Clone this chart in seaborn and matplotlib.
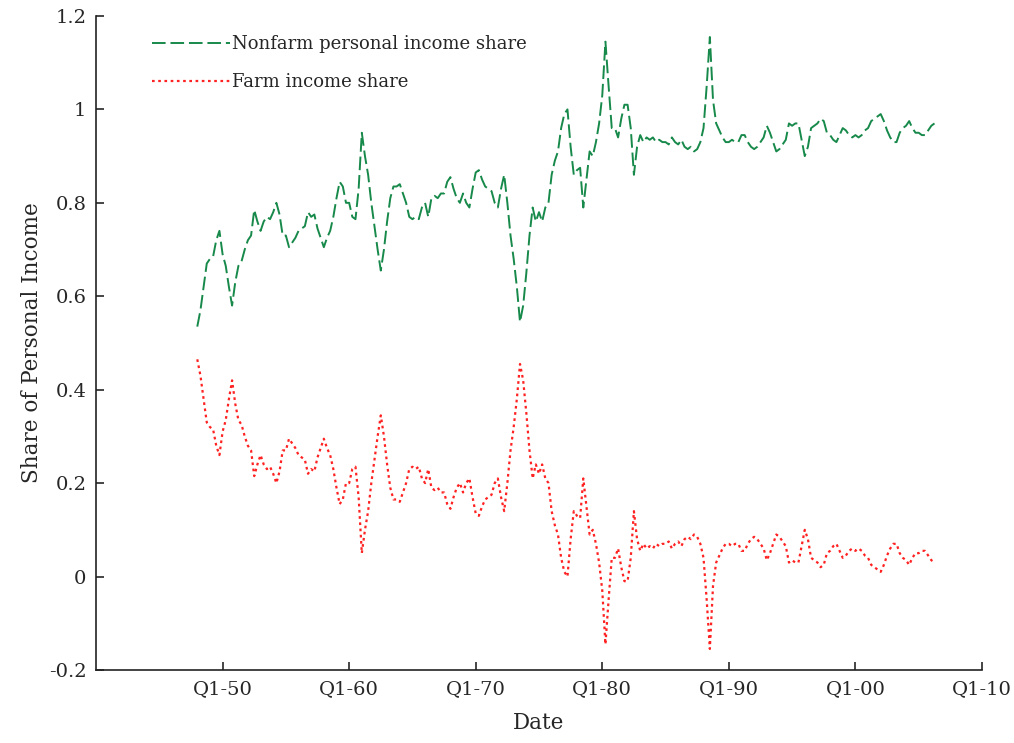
import numpy as np
import matplotlib
matplotlib.use("Agg")
import matplotlib.pyplot as plt
import seaborn as sns

# quarterly shares, Q1-1948 .. Q2-2006
nonfarm = [
    0.535, 0.57, 0.62, 0.67,     # 1948
    0.68, 0.685, 0.72, 0.74,     # 1949
    0.69, 0.665, 0.62, 0.58,     # 1950
    0.63, 0.665, 0.675, 0.70,    # 1951
    0.72, 0.73, 0.785, 0.76,     # 1952
    0.74, 0.76, 0.77, 0.765,     # 1953
    0.78, 0.80, 0.775, 0.73,     # 1954
    0.73, 0.705, 0.715, 0.725,   # 1955
    0.74, 0.745, 0.75, 0.78,     # 1956
    0.77, 0.775, 0.745, 0.725,   # 1957
    0.705, 0.725, 0.74, 0.77,    # 1958
    0.81, 0.845, 0.835, 0.80,    # 1959
    0.80, 0.77, 0.765, 0.83,     # 1960
    0.95, 0.90, 0.86, 0.80,      # 1961
    0.75, 0.70, 0.655, 0.70,     # 1962
    0.76, 0.81, 0.835, 0.835,    # 1963
    0.84, 0.82, 0.80, 0.77,      # 1964
    0.765, 0.77, 0.765, 0.79,    # 1965
    0.80, 0.77, 0.81, 0.815,     # 1966
    0.81, 0.82, 0.82, 0.845,     # 1967
    0.855, 0.83, 0.81, 0.80,     # 1968
    0.82, 0.80, 0.79, 0.83,      # 1969
    0.865, 0.87, 0.85, 0.835,    # 1970
    0.83, 0.825, 0.80, 0.79,     # 1971
    0.83, 0.86, 0.80, 0.73,      # 1972
    0.68, 0.62, 0.545, 0.58,     # 1973
    0.65, 0.73, 0.79, 0.76,      # 1974
    0.78, 0.76, 0.79, 0.80,      # 1975
    0.86, 0.89, 0.91, 0.96,      # 1976
    0.99, 1.00, 0.92, 0.86,      # 1977
    0.87, 0.875, 0.79, 0.85,     # 1978
    0.91, 0.90, 0.93, 0.97,      # 1979
    1.03, 1.145, 1.05, 0.96,     # 1980
    0.96, 0.94, 0.98, 1.01,      # 1981
    1.01, 0.96, 0.86, 0.92,      # 1982
    0.945, 0.93, 0.94, 0.935,    # 1983
    0.94, 0.93, 0.935, 0.93,     # 1984
    0.93, 0.925, 0.94, 0.93,     # 1985
    0.925, 0.935, 0.92, 0.915,   # 1986
    0.92, 0.91, 0.915, 0.93,     # 1987
    0.96, 1.05, 1.155, 1.02,     # 1988
    0.97, 0.955, 0.94, 0.93,     # 1989
    0.93, 0.935, 0.93, 0.93,     # 1990
    0.945, 0.945, 0.93, 0.92,    # 1991
    0.915, 0.92, 0.93, 0.94,     # 1992
    0.965, 0.95, 0.93, 0.91,     # 1993
    0.915, 0.925, 0.935, 0.97,   # 1994
    0.965, 0.97, 0.97, 0.935,    # 1995
    0.90, 0.92, 0.96, 0.965,     # 1996
    0.97, 0.98, 0.975, 0.95,     # 1997
    0.945, 0.935, 0.93, 0.945,   # 1998
    0.96, 0.955, 0.945, 0.94,    # 1999
    0.945, 0.94, 0.945, 0.955,   # 2000
    0.96, 0.975, 0.98, 0.985,    # 2001
    0.99, 0.975, 0.955, 0.94,    # 2002
    0.93, 0.93, 0.95, 0.96,      # 2003
    0.965, 0.975, 0.96, 0.95,    # 2004
    0.95, 0.945, 0.945, 0.955,   # 2005
    0.965, 0.97,                 # 2006
]

farm = [
    0.465, 0.43, 0.38, 0.33,     # 1948
    0.32, 0.315, 0.28, 0.26,     # 1949
    0.31, 0.335, 0.38, 0.42,     # 1950
    0.37, 0.335, 0.325, 0.30,    # 1951
    0.28, 0.27, 0.215, 0.24,     # 1952
    0.26, 0.24, 0.23, 0.235,     # 1953
    0.22, 0.20, 0.225, 0.27,     # 1954
    0.27, 0.295, 0.285, 0.275,   # 1955
    0.26, 0.255, 0.25, 0.22,     # 1956
    0.23, 0.225, 0.255, 0.275,   # 1957
    0.295, 0.275, 0.26, 0.23,    # 1958
    0.19, 0.155, 0.165, 0.20,    # 1959
    0.20, 0.23, 0.235, 0.17,     # 1960
    0.05, 0.10, 0.14, 0.20,      # 1961
    0.25, 0.30, 0.345, 0.30,     # 1962
    0.24, 0.19, 0.165, 0.165,    # 1963
    0.16, 0.18, 0.20, 0.23,      # 1964
    0.235, 0.23, 0.235, 0.21,    # 1965
    0.20, 0.23, 0.19, 0.185,     # 1966
    0.19, 0.18, 0.18, 0.155,     # 1967
    0.145, 0.17, 0.19, 0.20,     # 1968
    0.18, 0.20, 0.21, 0.17,      # 1969
    0.135, 0.13, 0.15, 0.165,    # 1970
    0.17, 0.175, 0.20, 0.21,     # 1971
    0.17, 0.14, 0.20, 0.27,      # 1972
    0.32, 0.38, 0.455, 0.42,     # 1973
    0.35, 0.27, 0.21, 0.24,      # 1974
    0.22, 0.24, 0.21, 0.20,      # 1975
    0.14, 0.11, 0.09, 0.04,      # 1976
    0.01, 0.00, 0.08, 0.14,      # 1977
    0.13, 0.125, 0.21, 0.15,     # 1978
    0.09, 0.10, 0.07, 0.03,      # 1979
    -0.03, -0.145, -0.05, 0.04,  # 1980
    0.04, 0.06, 0.02, -0.01,     # 1981
    -0.01, 0.04, 0.14, 0.08,     # 1982
    0.055, 0.07, 0.06, 0.065,    # 1983
    0.06, 0.07, 0.065, 0.07,     # 1984
    0.07, 0.075, 0.06, 0.07,     # 1985
    0.075, 0.065, 0.08, 0.085,   # 1986
    0.08, 0.09, 0.085, 0.07,     # 1987
    0.04, -0.05, -0.155, -0.02,  # 1988
    0.03, 0.045, 0.06, 0.07,     # 1989
    0.07, 0.065, 0.07, 0.07,     # 1990
    0.055, 0.055, 0.07, 0.08,    # 1991
    0.085, 0.08, 0.07, 0.06,     # 1992
    0.035, 0.05, 0.07, 0.09,     # 1993
    0.085, 0.075, 0.065, 0.03,   # 1994
    0.035, 0.03, 0.03, 0.065,    # 1995
    0.10, 0.08, 0.04, 0.035,     # 1996
    0.03, 0.02, 0.025, 0.05,     # 1997
    0.055, 0.065, 0.07, 0.055,   # 1998
    0.04, 0.045, 0.055, 0.06,    # 1999
    0.055, 0.06, 0.055, 0.045,   # 2000
    0.04, 0.025, 0.02, 0.015,    # 2001
    0.01, 0.025, 0.045, 0.06,    # 2002
    0.07, 0.07, 0.05, 0.04,      # 2003
    0.035, 0.025, 0.04, 0.05,    # 2004
    0.05, 0.055, 0.055, 0.045,   # 2005
    0.035, 0.03,                 # 2006
]

tick_years = [1950, 1960, 1970, 1980, 1990, 2000, 2010]
tick_labels = ["Q1-50", "Q1-60", "Q1-70", "Q1-80", "Q1-90", "Q1-00", "Q1-10"]

# date axis: one point per quarter starting at 1948
dates = 1948 + np.arange(len(nonfarm)) / 4

sns.set_style("ticks")
plt.rcParams["font.family"] = ["DejaVu Serif"]

fig = plt.figure(figsize=(10.14, 7.43), dpi=100)
ax = fig.add_axes([0.0947, 0.0983, 0.8737, 0.8802])

sns.lineplot(x=dates, y=nonfarm, ax=ax, color="#17894a", linewidth=1.4,
             linestyle=(0, (7, 2.5)), label="Nonfarm personal income share")
sns.lineplot(x=dates, y=farm, ax=ax, color="#ff2222", linewidth=1.6,
             linestyle=(0, (1.2, 1.6)), label="Farm income share")

ax.set_xlim(1940, 2010)
ax.set_ylim(-0.2, 1.2)
ax.set_xticks(tick_years)
ax.set_xticklabels(tick_labels)
ax.set_yticks([-0.2, 0, 0.2, 0.4, 0.6, 0.8, 1.0, 1.2])
ax.set_yticklabels(["-0.2", "0", "0.2", "0.4", "0.6", "0.8", "1", "1.2"])
ax.tick_params(direction="in", length=6, width=1.2, labelsize=14, pad=7)
for s in ["top", "right"]:
    ax.spines[s].set_visible(False)
for s in ["left", "bottom"]:
    ax.spines[s].set_linewidth(1.2)
    ax.spines[s].set_color("#222222")

ax.set_xlabel("Date", fontsize=15.5, labelpad=10)
ax.set_ylabel("Share of Personal Income", fontsize=15.5, labelpad=4)

ax.legend(loc="upper left", bbox_to_anchor=(0.045, 0.995), frameon=False,
          fontsize=13, handlelength=4.3, handletextpad=0.15, labelspacing=1.1)

fig.savefig("out.png", dpi=100)
